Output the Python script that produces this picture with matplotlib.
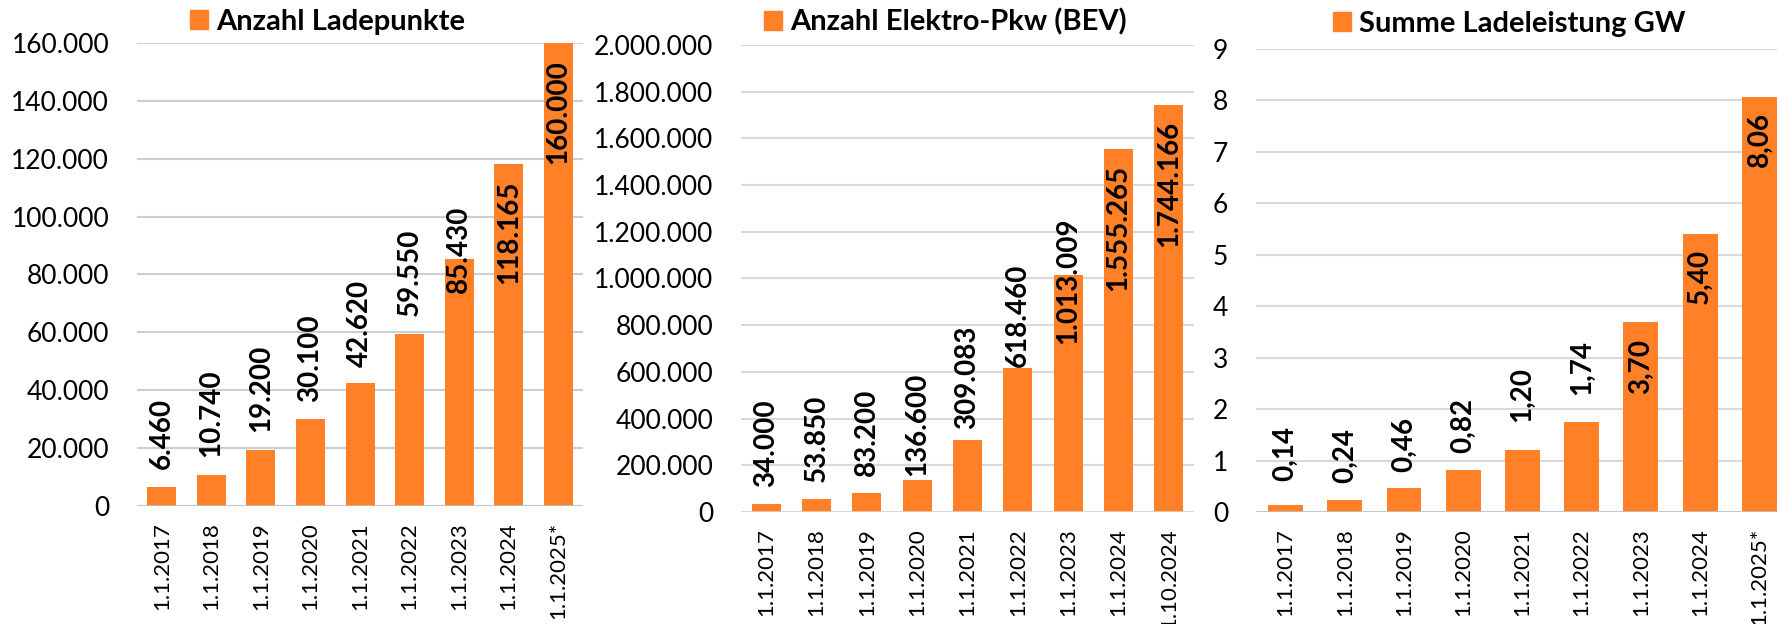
import matplotlib
matplotlib.use("Agg")
import matplotlib.pyplot as plt
from matplotlib.patches import Patch
from matplotlib.ticker import FuncFormatter, MultipleLocator

plt.rcParams['font.family'] = ['Lato', 'DejaVu Sans']

# Ladepunkte
lp_dates = ['1.1.2017', '1.1.2018', '1.1.2019', '1.1.2020', '1.1.2021',
            '1.1.2022', '1.1.2023', '1.1.2024', '1.1.2025*']
lp_values = [6460, 10740, 19200, 30100, 42620, 59550, 85430, 118165, 160000]

# Elektro-Pkw (BEV)
bev_dates = ['1.1.2017', '1.1.2018', '1.1.2019', '1.1.2020', '1.1.2021',
             '1.1.2022', '1.1.2023', '1.1.2024', '1.10.2024']
bev_values = [34000, 53850, 83200, 136600, 309083, 618460, 1013009, 1555265, 1744166]

# Ladeleistung in GW
gw_dates = ['1.1.2017', '1.1.2018', '1.1.2019', '1.1.2020', '1.1.2021',
            '1.1.2022', '1.1.2023', '1.1.2024', '1.1.2025*']
gw_values = [0.14, 0.24, 0.46, 0.82, 1.20, 1.74, 3.70, 5.40, 8.06]

orange = '#FF8026'

# label placement: gap in pixels from bar top, 'bottom' = above the top edge,
# 'top' = hanging down inside the bar
lp_gap = [18, 18, 18, 17, 16, 18, -34, -17, -17]
lp_va = ['bottom'] * 7 + ['top'] * 2
bev_gap = [17, 17, 17, 4, 11, 1, -69, -16, -16]
bev_va = ['bottom'] * 7 + ['top'] * 2
gw_gap = [24, 17, 16, 17, 28, 27, -17, -15, -15]
gw_va = ['bottom'] * 6 + ['top'] * 3


def thousands(v, pos=None):
    return f"{v:,.0f}".replace(",", ".")


def gw_fmt(v):
    return f"{v:.2f}".replace(".", ",")


def draw(ax, dates, values, ymax, step, fmt, gaps, vas, width, grid_col, axis_col):
    x = range(len(dates))
    ax.bar(x, values, width=width, color=orange, zorder=3)
    ax.set_xlim(-0.5, len(dates) - 0.5)
    ax.set_ylim(0, ymax)
    ax.yaxis.set_major_locator(MultipleLocator(step))
    ax.yaxis.set_major_formatter(FuncFormatter(lambda v, p: thousands(v) if fmt is None else f"{v:.0f}"))
    ax.set_xticks(list(x))
    ax.set_xticklabels(dates, rotation=90)
    ax.grid(axis='y', color=grid_col, linewidth=1.5, zorder=0)
    for s in ax.spines.values():
        s.set_visible(False)
    ax.axhline(0, color=axis_col, linewidth=1.8, zorder=4)
    ax.tick_params(axis='y', length=0, pad=20, labelsize=19, labelcolor='#000000')
    ax.tick_params(axis='x', length=0, pad=11.5, labelsize=16, labelcolor='#000000')
    for i, v in enumerate(values):
        label = thousands(v) if fmt is None else fmt(v)
        ax.annotate(label, (i, v), xytext=(0, gaps[i]), textcoords='offset pixels',
                    ha='center', va=vas[i], rotation=90, fontsize=20,
                    fontweight='bold', color='#000000', zorder=5)


def title(ax, fig, text, x, y):
    ax.legend(handles=[Patch(color=orange, label=text)], loc='center left',
              bbox_to_anchor=(x, y), bbox_transform=fig.transFigure,
              frameon=False, borderpad=0, borderaxespad=0,
              handlelength=0.62, handleheight=0.62, handletextpad=0.28,
              prop={'weight': 'bold', 'size': 21})


fig = plt.figure(figsize=(17.77, 6.24), dpi=100)

ax1 = fig.add_axes([0.0771, 0.1891, 0.2510, 0.7420])
draw(ax1, lp_dates, lp_values, 160000, 20000, None, lp_gap, lp_va, 0.585,
     '#C6D0D9', '#BCC7D1')
title(ax1, fig, 'Anzahl Ladepunkte', 0.1069, 0.9647)

ax2 = fig.add_axes([0.4170, 0.1795, 0.2549, 0.7484])
draw(ax2, bev_dates, bev_values, 2000000, 200000, None, bev_gap, bev_va, 0.58,
     '#D9D9D9', '#D9D9D9')
title(ax2, fig, 'Anzahl Elektro-Pkw (BEV)', 0.4299, 0.9647)

ax3 = fig.add_axes([0.7068, 0.1795, 0.2999, 0.7420])
draw(ax3, gw_dates, gw_values, 9, 1, gw_fmt, gw_gap, gw_va, 0.59,
     '#D9D9D9', '#B8C4CE')
title(ax3, fig, 'Summe Ladeleistung GW', 0.7501, 0.9615)

fig.savefig('out.png', dpi=100)
